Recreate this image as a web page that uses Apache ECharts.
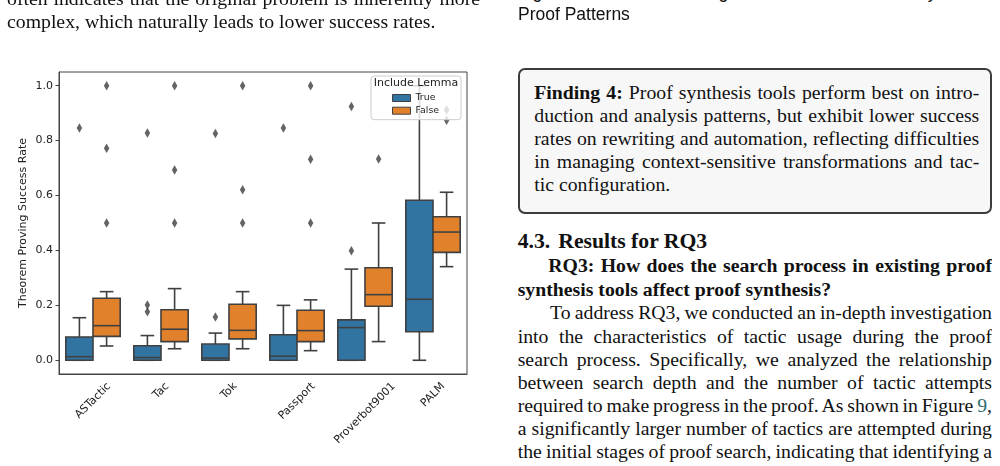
<!DOCTYPE html>
<html>
<head>
<meta charset="utf-8">
<title>Theorem Proving Success Rate</title>
<script src="https://cdn.jsdelivr.net/npm/echarts@6/dist/echarts.min.js"></script>
<style>
  body { margin: 0; background: #fff; }
  #page {
    position: relative; width: 1000px; height: 466px; overflow: hidden;
    font-family: 'Liberation Serif', serif; font-size: 19.75px; color: #111;
  }
  #chart { position: absolute; left: 0; top: 0; width: 500px; height: 466px; }
  .ln { position: absolute; line-height: 24px; height: 24px; white-space: nowrap; }
  .j { white-space: normal; overflow: hidden; text-align: justify; text-align-last: justify; word-spacing: -2px; }
  .sans { font-family: 'Liberation Sans', sans-serif; font-size: 17.5px; }
  .finding {
    position: absolute; left: 518px; top: 68px; width: 474px; height: 146px;
    box-sizing: border-box; border: 2px solid #3c3c3c; border-radius: 7px; background: #f7f7f7;
  }
  .ref { color: #2a6e6e; }
</style>
</head>
<body>
<div id="page">
  <div id="chart"></div>

  <!-- left column text -->
  <div class="ln j" style="left:7px; top:-13.7px; width:473px;">often indicates that the original problem is inherently more</div>
  <div class="ln" style="left:7px; top:9px;">complex, which naturally leads to lower success rates.</div>

  <!-- right column text -->
  <div class="ln j sans" style="left:518px; top:-20px; width:474px;">Figure 8: Theorem Proving Success Rate of Proof Synthesis Tools by</div>
  <div class="ln sans" style="left:518px; top:1.9px;">Proof Patterns</div>

  <div class="finding"></div>
  <div class="ln j" style="left:534.3px; top:79.6px; width:445px;"><b>Finding 4:</b> Proof synthesis tools perform best on intro-</div>
  <div class="ln j" style="left:534.3px; top:102.8px; width:445px;">duction and analysis patterns, but exhibit lower success</div>
  <div class="ln j" style="left:534.3px; top:126px; width:445px;">rates on rewriting and automation, reflecting difficulties</div>
  <div class="ln j" style="left:534.3px; top:149.2px; width:445px;">in managing context-sensitive transformations and tac-</div>
  <div class="ln" style="left:534.3px; top:172.4px;">tic configuration.</div>

  <div class="ln" style="left:517.7px; top:229px; font-size:21.7px; font-weight:bold;"><span style="margin-right:8px;">4.3.</span>Results for RQ3</div>
  <div class="ln j" style="left:548.3px; top:253px; width:443.7px; font-weight:bold;">RQ3: How does the search process in existing proof</div>
  <div class="ln" style="left:517.7px; top:277px; font-weight:bold;">synthesis tools affect proof synthesis?</div>
  <div class="ln j" style="left:550px; top:300.3px; width:442px;">To address RQ3, we conducted an in-depth investigation</div>
  <div class="ln j" style="left:517.7px; top:323.6px; width:474.3px;">into the characteristics of tactic usage during the proof</div>
  <div class="ln j" style="left:517.7px; top:346.8px; width:474.3px;">search process. Specifically, we analyzed the relationship</div>
  <div class="ln j" style="left:517.7px; top:369.9px; width:474.3px;">between search depth and the number of tactic attempts</div>
  <div class="ln j" style="left:517.7px; top:393px; width:474.3px;">required to make progress in the proof. As shown in Figure&nbsp;<span class="ref">9</span>,</div>
  <div class="ln j" style="left:517.7px; top:416.1px; width:474.3px;">a significantly larger number of tactics are attempted during</div>
  <div class="ln j" style="left:517.7px; top:439.2px; width:474.3px;">the initial stages of proof search, indicating that identifying a</div>
</div>

<script>
// categories on the x axis
var categories = ['ASTactic', 'Tac', 'Tok', 'Passport', 'Proverbot9001', 'PALM'];
// y tick labels
var yTicks = [0, 0.2, 0.4, 0.6, 0.8, 1.0];
// box stats per category: [lower whisker, Q1, median, Q3, upper whisker]
var trueStats = [
  [0, 0, 0.013, 0.085, 0.155],
  [0, 0, 0.010, 0.053, 0.090],
  [0, 0, 0.008, 0.059, 0.099],
  [0, 0, 0.015, 0.093, 0.200],
  [0, 0, 0.119, 0.147, 0.332],
  [0, 0.104, 0.222, 0.583, 1.0]
];
var falseStats = [
  [0.052, 0.087, 0.126, 0.226, 0.250],
  [0.042, 0.068, 0.113, 0.184, 0.261],
  [0.042, 0.078, 0.109, 0.204, 0.250],
  [0.035, 0.068, 0.108, 0.182, 0.220],
  [0.068, 0.197, 0.239, 0.337, 0.500],
  [0.341, 0.393, 0.467, 0.523, 0.612]
];
// outliers: [category index, value]
var trueOutliers = [
  [0, 0.846],
  [1, 0.828], [1, 0.201], [1, 0.177],
  [2, 0.826], [2, 0.158],
  [3, 0.846],
  [4, 0.924], [4, 0.399]
];
var falseOutliers = [
  [0, 1.0], [0, 0.772], [0, 0.5],
  [1, 1.0], [1, 0.693], [1, 0.5],
  [2, 1.0], [2, 0.621], [2, 0.5],
  [3, 1.0], [3, 0.732], [3, 0.5],
  [4, 0.733],
  [5, 0.912], [5, 0.874]
];

(function() {
  var blue = '#3274a1';
  var orange = '#e1812c';
  var edge = '#404040';
  var font = 'DejaVu Sans';

  var myChart = echarts.init(document.getElementById('chart'));

  // box drawn through the axes; side -1 = left half of the band, 1 = right half
  function boxRenderer(side) {
    return function (params, api) {
      var cat = api.value(0);
      var band = api.size([1, 0])[0];
      var w = band * 0.4;
      var cx = api.coord([cat, 0])[0] + side * w / 2;
      var lo = api.coord([cat, api.value(1)])[1];
      var q1 = api.coord([cat, api.value(2)])[1];
      var med = api.coord([cat, api.value(3)])[1];
      var q3 = api.coord([cat, api.value(4)])[1];
      var hi = api.coord([cat, api.value(5)])[1];
      var cap = w / 4;
      var ls = { stroke: edge, lineWidth: 1.6 };
      return {
        type: 'group',
        children: [
          { type: 'line', shape: { x1: cx, y1: q3, x2: cx, y2: hi }, style: ls },
          { type: 'line', shape: { x1: cx, y1: q1, x2: cx, y2: lo }, style: ls },
          { type: 'line', shape: { x1: cx - cap, y1: hi, x2: cx + cap, y2: hi }, style: ls },
          { type: 'line', shape: { x1: cx - cap, y1: lo, x2: cx + cap, y2: lo }, style: ls },
          { type: 'rect', shape: { x: cx - w / 2, y: q3, width: w, height: q1 - q3 },
            style: { fill: api.visual('color'), stroke: edge, lineWidth: 1.6 } },
          { type: 'line', shape: { x1: cx - w / 2, y1: med, x2: cx + w / 2, y2: med }, style: ls }
        ]
      };
    };
  }

  function withIndex(stats) {
    return stats.map(function (s, i) { return [i].concat(s); });
  }

  // rotated labels centred under the tick (matplotlib style)
  var ctx = document.createElement('canvas').getContext('2d');
  ctx.font = '11px "DejaVu Sans"';
  var rich = {};
  categories.forEach(function (c, i) {
    var k = (ctx.measureText(c).width + 13) / 2;
    rich['c' + i] = { fontSize: 11, fontFamily: font, color: '#222', padding: [k, k, 0, 0] };
  });

  var diamond = 'path://M0,-10L6,0L0,10L-6,0Z';

  var option = {
    animation: false,
    textStyle: { fontFamily: font },
    title: {
      text: 'Include Lemma',
      left: 416,
      top: 78,
      textAlign: 'center',
      padding: 0,
      textStyle: { fontSize: 11, fontWeight: 'normal', color: '#222', fontFamily: font }
    },
    legend: {
      data: [
        { name: 'True', itemStyle: { color: blue, borderColor: edge, borderWidth: 1 } },
        { name: 'False', itemStyle: { color: orange, borderColor: edge, borderWidth: 1 } }
      ],
      selectedMode: false,
      orient: 'vertical',
      left: 371,
      top: 76,
      icon: 'rect',
      itemWidth: 18,
      itemHeight: 7,
      itemGap: 2.7,
      padding: [17, 22, 4, 21],
      backgroundColor: 'rgba(255,255,255,0.8)',
      borderColor: '#cccccc',
      borderWidth: 1,
      borderRadius: 3,
      textStyle: { fontSize: 9.4, color: '#222', fontFamily: font, lineHeight: 10 }
    },
    grid: {
      left: 59,
      top: 72,
      width: 408,
      height: 302,
      show: true,
      borderColor: '#444',
      borderWidth: 1
    },
    xAxis: {
      type: 'category',
      data: categories,
      axisLine: { onZero: false, lineStyle: { color: '#444', width: 1 } },
      axisTick: { alignWithLabel: true, length: 3.5, lineStyle: { color: '#444' } },
      axisLabel: {
        interval: 0,
        rotate: 45,
        align: 'center',
        verticalAlign: 'middle',
        margin: 6,
        formatter: function (v, i) { return '{c' + i + '|' + v + '}'; },
        rich: rich
      },
      splitLine: { show: false }
    },
    yAxis: {
      type: 'value',
      min: -0.05,
      max: 1.05,
      name: 'Theorem Proving Success Rate',
      nameLocation: 'middle',
      nameGap: 30,
      nameMoveOverlap: false,
      nameTextStyle: { fontSize: 11, color: '#222', fontFamily: font },
      axisLine: { show: true, lineStyle: { color: '#444', width: 1 } },
      axisTick: { show: true, length: 3.5, customValues: yTicks, lineStyle: { color: '#444' } },
      axisLabel: {
        customValues: yTicks,
        margin: 6,
        fontSize: 11,
        color: '#222',
        formatter: function (v) { return v.toFixed(1); }
      },
      splitLine: { show: false }
    },
    series: [
      {
        name: 'True',
        type: 'custom',
        renderItem: boxRenderer(-1),
        itemStyle: { color: blue },
        encode: { x: 0, y: [1, 2, 3, 4, 5] },
        data: withIndex(trueStats)
      },
      {
        name: 'False',
        type: 'custom',
        renderItem: boxRenderer(1),
        itemStyle: { color: orange },
        encode: { x: 0, y: [1, 2, 3, 4, 5] },
        data: withIndex(falseStats)
      },
      {
        name: 'True outliers',
        type: 'scatter',
        symbol: diamond,
        symbolSize: [5.5, 9.5],
        symbolOffset: [-13.6, 0],
        itemStyle: { color: '#3d3d3d' },
        data: trueOutliers
      },
      {
        name: 'False outliers',
        type: 'scatter',
        symbol: diamond,
        symbolSize: [5.5, 9.5],
        symbolOffset: [13.6, 0],
        itemStyle: { color: '#3d3d3d' },
        data: falseOutliers
      }
    ]
  };

  myChart.setOption(option);
  window.addEventListener('resize', function () {
    myChart.resize();
  });
})();
</script>
</body>
</html>
